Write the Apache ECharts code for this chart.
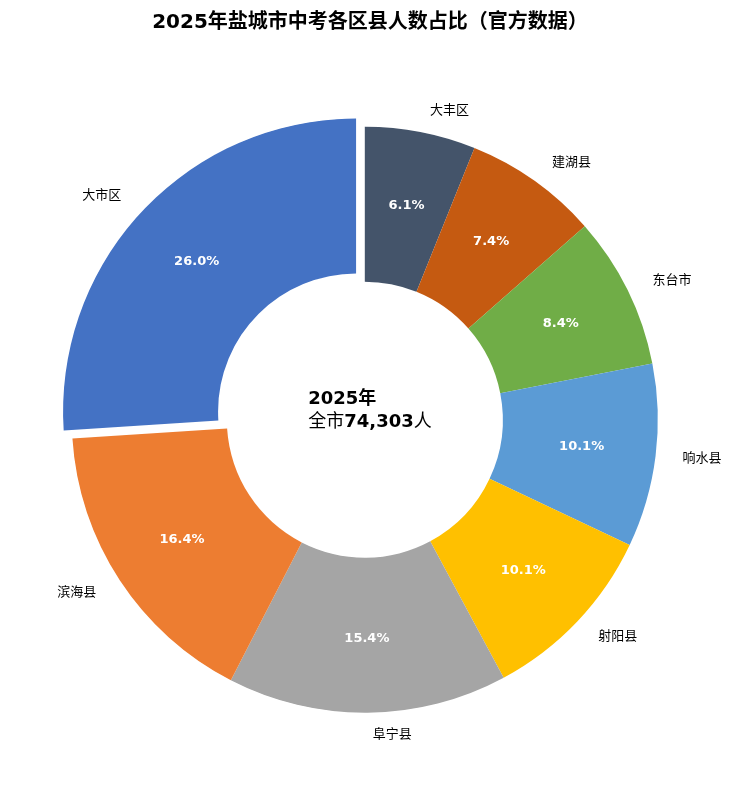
<!DOCTYPE html>
<html><head><meta charset="utf-8">
<script src="https://cdn.jsdelivr.net/npm/echarts@6/dist/echarts.min.js"></script>
<style>html,body{margin:0;padding:0;background:#fff}#c{width:740px;height:786px}</style>
</head><body><div id="c"></div>
<script>
const categories = ['大丰区','建湖县','东台市','响水县','射阳县','阜宁县','滨海县','大市区'];
const values = [6.1, 7.4, 8.4, 10.1, 10.1, 15.4, 16.4, 26.0];
const colors = ['#44546A','#C55A11','#70AD47','#5B9BD5','#FFC000','#A5A5A5','#ED7D31','#4472C4'];
const FONT = '"DejaVu Sans","Noto Sans CJK SC",sans-serif';
const data = categories.map((n,i)=>({name:n,value:values[i],selected:n==='大市区',itemStyle:{color:colors[i]}}));
const common = {type:'pie',center:['49.3%','53.4%'],radius:[138,293],startAngle:90,clockwise:true,
  selectedMode:'single',selectedOffset:12,avoidLabelOverlap:false,emphasis:{disabled:true},
  itemStyle:{borderColor:'#fff',borderWidth:1.5}};
const chart = echarts.init(document.getElementById('c'));
chart.setOption({
  animation:false,
  title:{text:'2025年盐城市中考各区县人数占比（官方数据）',left:'center',top:8,
    textStyle:{fontFamily:FONT,fontSize:20,fontWeight:'bold',color:'#000'}},
  graphic:[{type:'text',left:'center',top:390,style:{
    text:'{b|2025年}\n{n|全市}{b|74,303}{n|人}',align:'center',
    rich:{b:{fontFamily:FONT,fontSize:18,fontWeight:'bold',color:'#000',lineHeight:23},
          n:{fontFamily:FONT,fontSize:18,color:'#000',lineHeight:23}}},x:0}],
  series:[
    Object.assign({},common,{data:data,label:{show:true,position:'outside',fontFamily:FONT,fontSize:13,color:'#000',formatter:'{b}'},
      labelLine:{show:false,length:22,length2:0}}),
    Object.assign({},common,{data:data,itemStyle:{color:'transparent',borderWidth:0},silent:true,
      label:{show:true,position:'inside',fontFamily:FONT,fontSize:13,fontWeight:'bold',color:'#fff',
      formatter:p=>p.value.toFixed(1)+'%'},labelLine:{show:false}})
  ]
});
</script></body></html>
